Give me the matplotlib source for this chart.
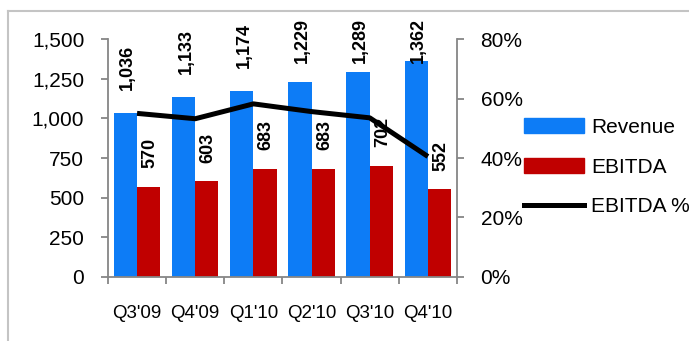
import numpy as np
import matplotlib.pyplot as plt
from matplotlib.lines import Line2D
from matplotlib.patches import Patch

plt.rcParams['font.family'] = ['Liberation Sans', 'DejaVu Sans']

quarters = ["Q3'09", "Q4'09", "Q1'10", "Q2'10", "Q3'10", "Q4'10"]
revenue = [1036, 1133, 1174, 1229, 1289, 1362]
ebitda = [570, 603, 683, 683, 702, 552]
ebitda_pct = [55.0, 53.2, 58.2, 55.6, 53.5, 40.5]

blue = '#0d7cf6'
red = '#c00000'
grey = '#868686'

fig = plt.figure(figsize=(6.89, 3.41), dpi=100)
ax = fig.add_axes([0.1567, 0.1877, 0.5066, 0.6979])
ax2 = ax.twinx()

x = np.arange(len(quarters))
w = 0.4
ax.bar(x - w / 2, revenue, w, color=blue, zorder=2)
ax.bar(x + w / 2, ebitda, w, color=red, zorder=2)

# rotated value labels, revenue ones pushed down when they hit the top
for xi, v in zip(x, revenue):
    y = min(v + 145, 1348)
    ax.text(xi - w / 2 + 0.04, y, f'{v:,}', rotation=90, ha='center', va='bottom',
            fontsize=13, fontweight='bold', clip_on=False)
for xi, v in zip(x, ebitda):
    ax.text(xi + w / 2 + 0.02, v + 115, f'{v:,}', rotation=90, ha='center', va='bottom',
            fontsize=13, fontweight='bold', clip_on=False)

ax2.plot(x, np.array(ebitda_pct) / 100, color='black', lw=3.6, solid_capstyle='butt', zorder=3)

ax.set_xlim(-0.5, len(quarters) - 0.5)
ax.set_ylim(0, 1500)
ax.set_yticks(range(0, 1501, 250))
ax.set_yticklabels([f'{t:,}' for t in range(0, 1501, 250)])
ax2.set_ylim(0, 0.8)
ax2.set_yticks(np.arange(0, 0.81, 0.2))
ax2.set_yticklabels([f'{int(round(t * 100))}%' for t in np.arange(0, 0.81, 0.2)])

ax.set_xticks(x)
ax.set_xticklabels(quarters)
ax.set_xticks(np.arange(-0.5, len(quarters)), minor=True)
ax.tick_params(axis='x', which='major', length=0, pad=20, labelsize=13.5)
ax.tick_params(axis='x', which='minor', length=5, width=1.3, color=grey, direction='out')
ax.tick_params(axis='y', length=5, width=1.3, color=grey, pad=12, labelsize=15)
ax2.tick_params(axis='y', length=5, width=1.3, color=grey, pad=12, labelsize=15)

for a in (ax, ax2):
    a.spines['top'].set_visible(False)
    for s in ('left', 'right', 'bottom'):
        a.spines[s].set_color(grey)
        a.spines[s].set_linewidth(1.3)
ax.spines['right'].set_visible(False)
ax2.spines['left'].set_visible(False)
ax2.spines['bottom'].set_visible(False)

handles = [Patch(color=blue), Patch(color=red), Line2D([], [], color='black', lw=3.6)]
fig.legend(handles, ['Revenue', 'EBITDA', 'EBITDA %'], loc='center left',
           bbox_to_anchor=(0.7605, 0.51), frameon=False, fontsize=15,
           handlelength=2.9, handleheight=0.7, handletextpad=0.33,
           labelspacing=1.0, borderpad=0, borderaxespad=0)

# light outer frame along the top and left edge
fig.add_artist(Line2D([0.0116, 1.0], [0.9692, 0.9692], color='#c4c4c4', lw=1.5))
fig.add_artist(Line2D([0.0116, 0.0116], [0.0, 0.9692], color='#c4c4c4', lw=1.5))

fig.savefig('out.png', dpi=100)
